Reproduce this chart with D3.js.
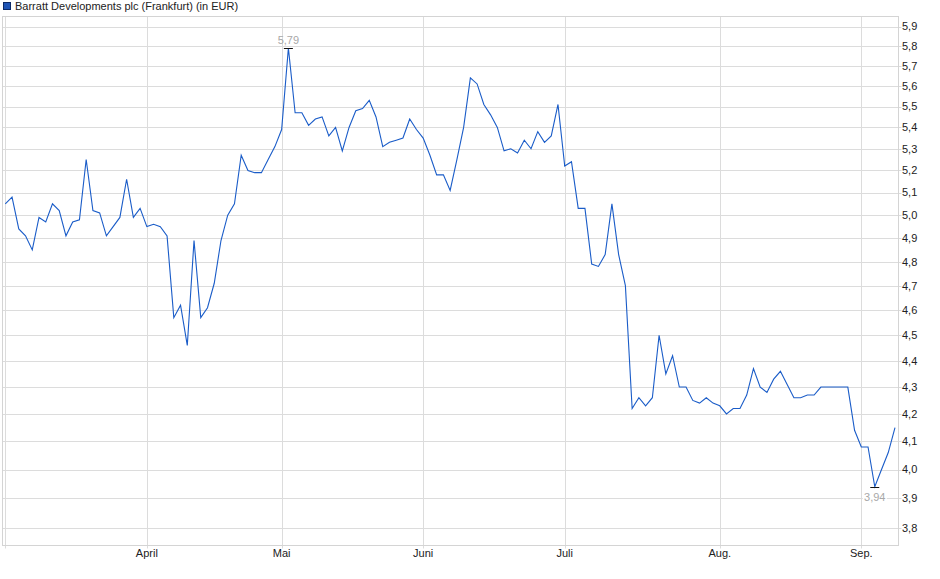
<!DOCTYPE html>
<meta charset="utf-8">
<html>
<head>
<style>
  body { margin: 0; background: #fff; }
  svg text { font-family: "Liberation Sans", Arial, sans-serif; font-size: 11px; }
</style>
</head>
<body>
<script src="https://cdnjs.cloudflare.com/ajax/libs/d3/7.8.5/d3.min.js"></script>
<script type="text/javascript">
// closing prices, one per trading day (EUR)
var prices = [
  5.05, 5.08, 4.94, 4.91, 4.85, 4.99, 4.97, 5.05, 5.02, 4.91,
  4.97, 4.98, 5.25, 5.02, 5.01, 4.91, 4.95, 4.99, 5.16, 4.99,
  5.03, 4.95, 4.96, 4.95, 4.91, 4.57, 4.62, 4.46, 4.89, 4.57,
  4.61, 4.71, 4.89, 5.00, 5.05, 5.27, 5.20, 5.19, 5.19, 5.25,
  5.31, 5.39, 5.79, 5.47, 5.47, 5.41, 5.44, 5.45, 5.36, 5.40,
  5.29, 5.40, 5.48, 5.49, 5.53, 5.45, 5.31, 5.33, 5.34, 5.35,
  5.44, 5.39, 5.35, 5.27, 5.18, 5.18, 5.11, 5.25, 5.40, 5.64,
  5.61, 5.51, 5.46, 5.40, 5.29, 5.30, 5.28, 5.34, 5.30, 5.38,
  5.33, 5.36, 5.51, 5.22, 5.24, 5.03, 5.03, 4.79, 4.78, 4.83,
  5.05, 4.83, 4.70, 4.22, 4.26, 4.23, 4.26, 4.50, 4.35, 4.42,
  4.30, 4.30, 4.25, 4.24, 4.26, 4.24, 4.23, 4.20, 4.22, 4.22,
  4.27, 4.37, 4.30, 4.28, 4.33, 4.36, 4.31, 4.26, 4.26, 4.27,
  4.27, 4.30, 4.30, 4.30, 4.30, 4.30, 4.14, 4.08, 4.08, 3.94,
  4.00, 4.06, 4.15
];

// first trading day of each month (index into prices) and its label
var monthIdx = [0, 21, 41, 62, 83, 106, 127];
var monthLabels = ["", "April", "Mai", "Juni", "Juli", "Aug.", "Sep."];

var yTicks = [3.8, 3.9, 4.0, 4.1, 4.2, 4.3, 4.4, 4.5, 4.6, 4.7, 4.8,
              4.9, 5.0, 5.1, 5.2, 5.3, 5.4, 5.5, 5.6, 5.7, 5.8, 5.9];

var title = "Barratt Developments plc (Frankfurt) (in EUR)";

var W = 940, H = 579;
var pLeft = 2.5, pRight = 898.5, pTop = 16.5, pBottom = 545.5;

var svg = d3.select("body").append("svg")
    .attr("width", W)
    .attr("height", H);

var x = d3.scaleLinear()
    .domain([0, prices.length - 1])
    .range([5.3, 895]);

var y = d3.scaleLog()
    .domain([3.742, 5.952])
    .range([pBottom, pTop]);

var fmt = function (v) { return d3.format(".1f")(v).replace(".", ","); };
var fmt2 = function (v) { return d3.format(".2f")(v).replace(".", ","); };

// horizontal grid
svg.append("g").selectAll("line")
    .data(yTicks)
    .enter().append("line")
    .attr("x1", pLeft).attr("x2", pRight + 3)
    .attr("y1", function (d) { return Math.round(y(d)) + 0.5; })
    .attr("y2", function (d) { return Math.round(y(d)) + 0.5; })
    .style("stroke", "#dcdcdc");

// vertical grid at month starts
svg.append("g").selectAll("line")
    .data(monthIdx)
    .enter().append("line")
    .attr("x1", function (d) { return Math.round(x(d)) + 0.5; })
    .attr("x2", function (d) { return Math.round(x(d)) + 0.5; })
    .attr("y1", pTop).attr("y2", pBottom + 3)
    .style("stroke", "#dcdcdc");

// frame
svg.append("rect")
    .attr("x", pLeft).attr("y", pTop)
    .attr("width", pRight - pLeft).attr("height", pBottom - pTop)
    .style("fill", "none")
    .style("stroke", "#d4d4d4");

// right axis labels
svg.append("g").selectAll("text")
    .data(yTicks)
    .enter().append("text")
    .attr("x", 902)
    .attr("y", function (d) { return y(d); })
    .attr("dy", "0.35em")
    .style("fill", "#222")
    .text(fmt);

// month labels
svg.append("g").selectAll("text")
    .data(monthIdx)
    .enter().append("text")
    .attr("x", function (d) { return x(d); })
    .attr("y", 557)
    .attr("text-anchor", "middle")
    .style("fill", "#222")
    .text(function (d, i) { return monthLabels[i]; });

// price line
var line = d3.line()
    .x(function (d, i) { return x(i); })
    .y(function (d) { return y(d); });

svg.append("path")
    .datum(prices)
    .attr("d", line)
    .style("fill", "none")
    .style("stroke", "#1a5cc8")
    .style("stroke-width", 1.1);

// max / min markers
var maxI = d3.maxIndex(prices), minI = d3.minIndex(prices);

[maxI, minI].forEach(function (i) {
  svg.append("line")
      .attr("x1", x(i) - 4.5).attr("x2", x(i) + 4.5)
      .attr("y1", Math.round(y(prices[i])) + 0.5)
      .attr("y2", Math.round(y(prices[i])) + 0.5)
      .style("stroke", "#111");
});

svg.append("text")
    .attr("x", x(maxI))
    .attr("y", y(prices[maxI]) - 4)
    .attr("text-anchor", "middle")
    .style("fill", "#a8a8a8")
    .text(fmt2(prices[maxI]));

var minLab = svg.append("g");
minLab.append("rect")
    .attr("x", x(minI) - 12).attr("y", y(prices[minI]) + 4)
    .attr("width", 24).attr("height", 13)
    .style("fill", "#fff");
minLab.append("text")
    .attr("x", x(minI))
    .attr("y", y(prices[minI]) + 14)
    .attr("text-anchor", "middle")
    .style("fill", "#a8a8a8")
    .text(fmt2(prices[minI]));

// legend
svg.append("rect")
    .attr("x", 3.5).attr("y", 2.5)
    .attr("width", 7).attr("height", 7)
    .style("fill", "#1f55b5")
    .style("stroke", "#0d2a66");

svg.append("text")
    .attr("x", 15)
    .attr("y", 10)
    .style("fill", "#222")
    .text(title);
</script>
</body>
</html>
